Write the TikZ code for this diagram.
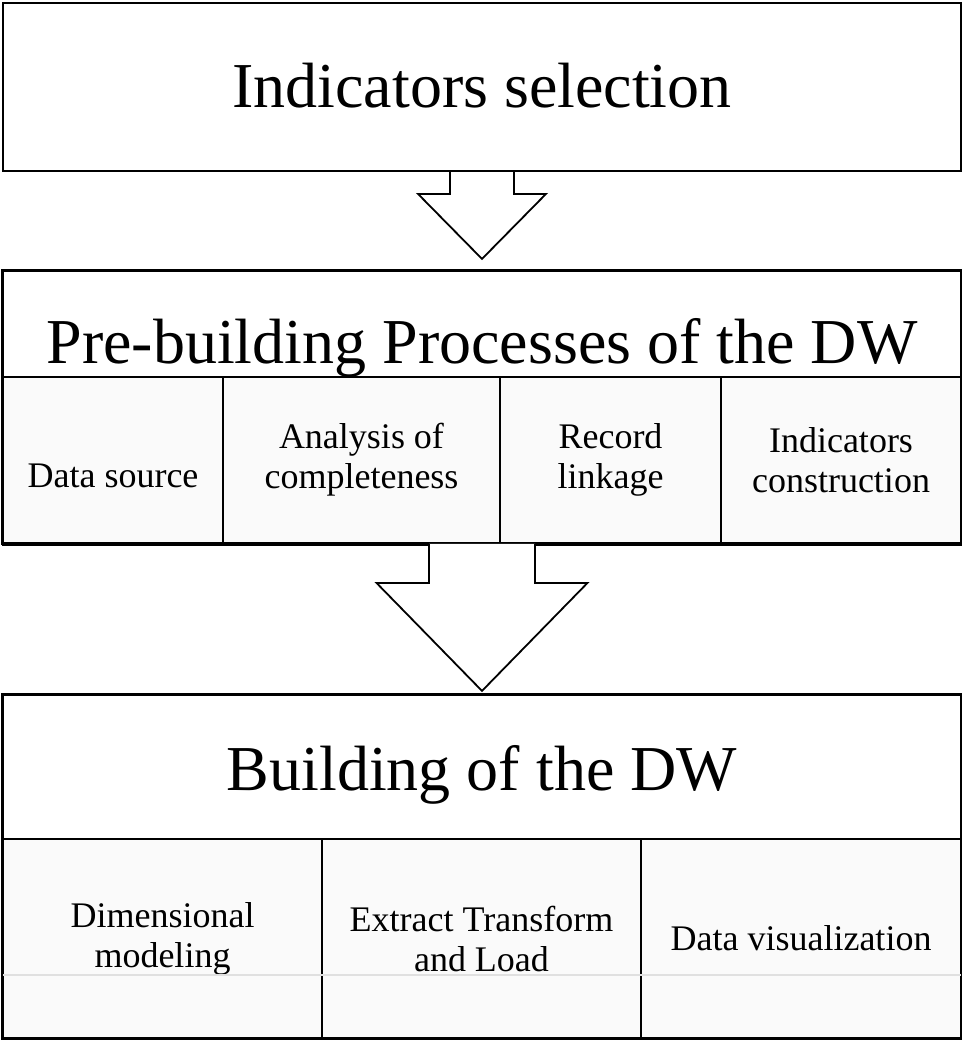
\documentclass[tikz,border=0pt]{standalone}
\usepackage{fontspec}
\setmainfont{Liberation Serif}
\usetikzlibrary{calc}

\newcommand{\bigfont}{\fontsize{32}{38}\selectfont}
\newcommand{\smallfont}{\fontsize{18}{20}\selectfont}

% hollow down arrow: from, to, gap, half stem, half head, head length
\newcommand{\blockarrow}[6]{%
  \draw[bigarrow] let \p1=(#1), \p2=(#2) in
    (\x1-#4,\y1) -- (\x1-#4,\y2+#3+#6) -- (\x1-#5,\y2+#3+#6) -- (\x1,\y2+#3)
    -- (\x1+#5,\y2+#3+#6) -- (\x1+#4,\y2+#3+#6) -- (\x1+#4,\y1);
}

\begin{document}
\begin{tikzpicture}[x=0.5pt, y=-0.5pt,
    frame/.style={draw, line width=1.1pt, fill=white, minimum width=479pt, inner sep=0pt},
    headbox/.style={font=\bigfont, text height=#1, text depth=0pt},
    cell/.style={draw, line width=0.8pt, fill=black!2, font=\smallfont, align=center, inner sep=0pt},
    bigarrow/.style={line width=0.9pt, fill=white, line join=miter},
    rowline/.style={draw=black!12, line width=1pt}]
\useasboundingbox (0,0) rectangle (962,1041);

% first step
\node[frame, minimum height=84pt, headbox=20pt] (sel) at (482,87) {Indicators selection};

% pre-building step with its four tasks
\node[frame, minimum height=53pt, headbox=39pt] (pre) at (482,324) {Pre-building Processes of the DW};
\node[cell, minimum width=110pt, minimum height=83pt, text height=27.5pt, text depth=0pt] (src) at (113,460) {Data source};
\node[cell, minimum width=138.5pt, minimum height=83pt] (cmp) at (361.5,460) {Analysis of\\completeness};
\node[cell, minimum width=110.5pt, minimum height=83pt] (lnk) at (610.5,460) {Record\\linkage};
\node[cell, minimum width=120pt, minimum height=83pt] (ind) at (841,460) {Indicators\\construction};
\draw[line width=1.1pt] (pre.north west) rectangle (ind.south east);
\draw[line width=1.8pt] (src.south west) -- (ind.south east);
\coordinate (prebase) at (pre.center |- src.south);

% building step with its three tasks
\node[frame, minimum height=72pt, headbox=23pt] (bld) at (482,767) {Building of the DW};
\node[cell, minimum width=159.5pt, minimum height=99.5pt] (dim) at (162.5,938.5) {Dimensional\\modeling};
\node[cell, minimum width=159.5pt, minimum height=99.5pt] (etl) at (481.5,938.5) {Extract Transform\\and Load};
\node[cell, minimum width=160pt, minimum height=99.5pt] (vis) at (801,938.5) {Data visualization};
\foreach \c in {dim,etl,vis}
  \draw[rowline, shorten <=0.5pt, shorten >=0.5pt] (\c.west |- 0,975) -- (\c.east |- 0,975);
\draw[line width=1.1pt] (bld.north west) rectangle (vis.south east);

% arrows between the steps
\blockarrow{sel.south}{pre.north}{5.5pt}{16pt}{32pt}{32.5pt}
\blockarrow{prebase}{bld.north}{1.5pt}{26.5pt}{52.75pt}{54pt}
\end{tikzpicture}
\end{document}
